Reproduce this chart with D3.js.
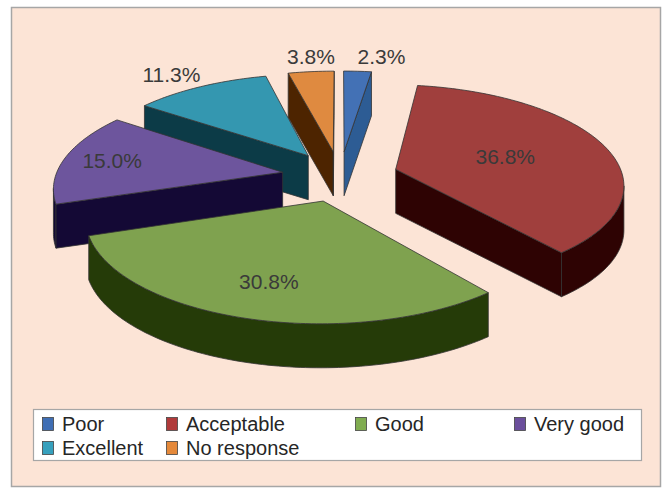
<!DOCTYPE html>
<html>
<head>
<meta charset="utf-8">
<script src="https://cdn.jsdelivr.net/npm/d3@7"></script>
<style>
body { margin: 0; background: #fff; }
text { font-family: "Liberation Sans", Arial, sans-serif; }
</style>
</head>
<body>
<div id="chart"></div>
<script>
var categories = ["Poor", "Acceptable", "Good", "Very good", "Excellent", "No response"];
var values = [2.3, 36.8, 30.8, 15.0, 11.3, 3.8];
var valueLabels = ["2.3%", "36.8%", "30.8%", "15.0%", "11.3%", "3.8%"];
var topColors = ["#4371b5", "#a03f3d", "#7fa24f", "#6d559d", "#3497b0", "#df8a40"];
var sideColors = ["#2d5c94", "#2e0303", "#253b08", "#140935", "#0c3b47", "#4d2400"];
var legendColors = ["#3f6eb4", "#b03a3a", "#80ac50", "#6b4f9c", "#36a0bd", "#e5893a"];

// layout: how far from the slice tip the inside labels sit (fraction of radius)
var labelRadius = [1, 0.52, 0.72, 0.78, 1, 1];

var W = 668, H = 488;
var svg = d3.select("#chart").append("svg")
    .attr("width", W)
    .attr("height", H);

// chart area frame
svg.append("rect")
    .attr("x", 11.5).attr("y", 7.5)
    .attr("width", 649).attr("height", 479)
    .attr("fill", "#fce4d6")
    .attr("stroke", "#a6a6a6")
    .attr("stroke-width", 1.5);

// 3D projection of the pie plane (perspective, tilted)
var cx = 340, cy = 176, S = 227, tilt = 0.432, persp = 0.1385;
var thick = 44, explode = 0.257;

function project(X, Z) {
    var f = 1 / (1 + Z * persp);
    return [cx + S * X * f, cy - S * Z * tilt * f];
}
function down(p) { return [p[0], p[1] + thick]; }

var line = d3.line().curve(d3.curveLinearClosed);

var arcs = d3.pie().sort(null).value(function(d) { return d; })(values);

var slices = arcs.map(function(a, i) {
    var m = (a.startAngle + a.endAngle) / 2;
    var ox = explode * Math.sin(m), oz = explode * Math.cos(m);
    var n = Math.max(2, Math.ceil((a.endAngle - a.startAngle) / 0.02));
    var rim = d3.range(n + 1).map(function(k) {
        var t = a.startAngle + (a.endAngle - a.startAngle) * k / n;
        return project(ox + Math.sin(t), oz + Math.cos(t));
    });
    return { i: i, m: m, ox: ox, oz: oz, apex: project(ox, oz), rim: rim };
});

// far slices first
var order = slices.slice().sort(function(a, b) { return b.oz - a.oz; });

function face(g, pts, color) {
    g.append("path").attr("d", line(pts))
        .attr("fill", color)
        .attr("stroke", "#333")
        .attr("stroke-width", 0.8)
        .attr("stroke-linejoin", "round");
}

var pieG = svg.append("g");
order.forEach(function(s) {
    var g = pieG.append("g");
    var side = sideColors[s.i], top = topColors[s.i];
    var rim = s.rim, n = rim.length - 1;

    // outer wall: runs of segments moving left on screen face the viewer
    var run = [];
    function flush() {
        if (run.length > 1) face(g, run.concat(run.slice().reverse().map(down)), side);
        run = [];
    }
    for (var k = 0; k < n; k++) {
        if (rim[k + 1][0] < rim[k][0]) {
            if (!run.length) run.push(rim[k]);
            run.push(rim[k + 1]);
        } else flush();
    }
    flush();

    // radial walls
    if (rim[0][0] < s.apex[0] - 0.5) face(g, [s.apex, rim[0], down(rim[0]), down(s.apex)], side);
    if (s.apex[0] < rim[n][0] - 0.5) face(g, [rim[n], s.apex, down(s.apex), down(rim[n])], side);

    // top face
    face(g, [s.apex].concat(rim), top);
});

// value labels
slices.forEach(function(s) {
    var sin = Math.sin(s.m), cos = Math.cos(s.m);
    var inside = values[s.i] >= 15;
    var t = svg.append("text")
        .text(valueLabels[s.i])
        .attr("font-size", "21px")
        .attr("fill", "#3a3a3a");
    if (inside) {
        var r = labelRadius[s.i];
        var p = project(s.ox + r * sin, s.oz + r * cos);
        t.attr("x", p[0]).attr("y", p[1]).attr("dy", "0.35em").attr("text-anchor", "middle");
    } else {
        var q = project(s.ox + sin, s.oz + cos);
        var anchor = sin > 0 ? "start" : (sin < -0.3 ? "end" : "middle");
        t.attr("x", q[0]).attr("y", q[1] - 8 + 5 * Math.abs(sin)).attr("text-anchor", anchor);
    }
});

// legend
var legend = svg.append("g");
legend.append("rect")
    .attr("x", 33.5).attr("y", 409.5)
    .attr("width", 608).attr("height", 51)
    .attr("fill", "#fff")
    .attr("stroke", "#a6a6a6")
    .attr("stroke-width", 1.2);

var colX = [42, 166, 355, 514], rowY = [424, 448];
categories.forEach(function(c, i) {
    var x = colX[i % 4], y = rowY[Math.floor(i / 4)];
    legend.append("rect")
        .attr("x", x + 0.5).attr("y", y - 6.5)
        .attr("width", 11).attr("height", 13)
        .attr("fill", legendColors[i])
        .attr("stroke", "#444").attr("stroke-width", 0.8);
    legend.append("text")
        .text(c)
        .attr("x", x + 20).attr("y", y)
        .attr("dy", "0.35em")
        .attr("font-size", "20px")
        .attr("fill", "#262626");
});
</script>
</body>
</html>
